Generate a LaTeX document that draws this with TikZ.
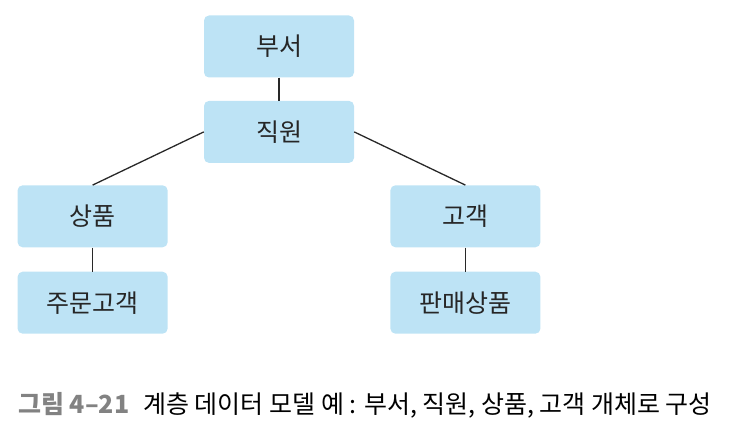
\documentclass[tikz,border=0pt]{standalone}
\usepackage{fontspec}
\setmainfont{Noto Sans CJK KR}
\usepackage{xcolor}
\usepackage{tikz}
\usetikzlibrary{positioning}
\definecolor{boxblue}{RGB}{189,227,245}
\definecolor{linegray}{RGB}{40,40,40}
\definecolor{capgray}{RGB}{130,130,130}
\tikzstyle{Entity} = [
fill=boxblue, rounded corners=5pt,
minimum width=150pt, minimum height=62pt,
font=\fontsize{25}{28}\selectfont, text=black!85
]
\tikzstyle{Link} = [line width=1.3pt, draw=linegray]

\begin{document}
\begin{tikzpicture}
			\useasboundingbox (0pt,0pt) rectangle (738pt,-430pt);
			\node [Entity] (dept) at (279pt,-46.5pt) {부서};
			\node [Entity, below =23pt of dept] (emp) {직원};
			\node [Entity, below left =22pt and 36pt of emp] (prod) {상품};
			\node [Entity, below =24pt of prod] (ordcust) {주문고객};
			\node [Entity, below right =22pt and 36pt of emp] (cust) {고객};
			\node [Entity, below =24pt of cust] (sold) {판매상품};
			\node [anchor=west, inner sep=0pt, font=\fontsize{25}{28}\selectfont] (cap) at (18pt,-405pt)
				{\textcolor{capgray}{\textbf{그림 4–21}}\hspace{14pt}계층 데이터 모델 예 : 부서, 직원, 상품, 고객 개체로 구성};
			
			\draw[Link] (dept) -- (emp);
			\draw[Link] (emp.west) -- (prod.north);
			\draw[Link] (emp.east) -- (cust.north);
			\draw[Link] (prod) -- (ordcust);
			\draw[Link] (cust) -- (sold);
		\end{tikzpicture}
\end{document}
